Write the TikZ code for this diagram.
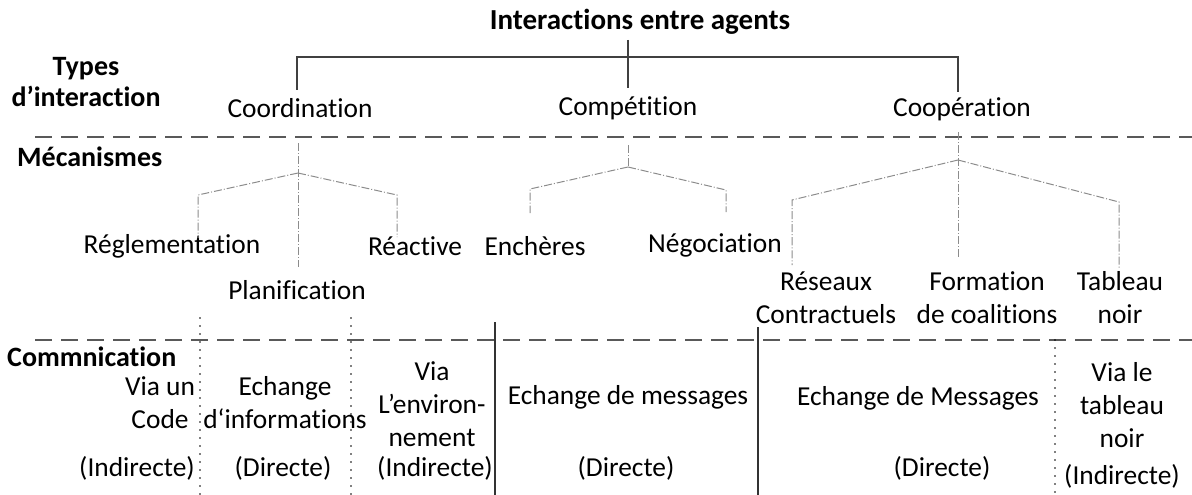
\documentclass[tikz,border=0pt]{standalone}
\usepackage{fontspec}
\setmainfont{Carlito}[Ligatures={NoCommon}]
\begin{document}
\begin{tikzpicture}[x=1pt,y=-1pt,
  lbl/.style={font=\fontsize{27.4}{33}\selectfont, inner sep=0pt, align=center},
  hdr/.style={font=\fontsize{28}{31}\selectfont\bfseries, inner sep=0pt, align=center},
  brk/.style={draw=black!75, line width=2.2pt},
  sep/.style={draw=black!65, line width=1.8pt, dash pattern=on 17pt off 9pt},
  tree/.style={draw=black!45, line width=1pt, dash pattern=on 8pt off 2pt on 1pt off 2pt},
  dots/.style={draw=black, line width=1.6pt, line cap=round, dash pattern=on 0pt off 8pt},
  wall/.style={draw=black!80, line width=1.8pt}]
\useasboundingbox (0,0) rectangle (1192,495);
% headings
\node[hdr, font=\fontsize{29}{31}\selectfont\bfseries] (title) at (640,22) {Interactions entre agents};
\node[hdr] (types) at (86,82) {Types\\d’interaction};
\node[hdr, anchor=west] (meca) at (17,157) {Mécanismes};
\node[hdr, anchor=west] (comm) at (7,357) {Commnication};
% types
\node[lbl] (coord) at (300,108) {Coordination};
\node[lbl] (comp) at (628,108) {Compétition};
\node[lbl] (coop) at (962,109) {Coopération};
% mechanisms
\node[lbl] (regl) at (172,246) {Réglementation};
\node[lbl] (plan) at (297,290) {Planification};
\node[lbl] (react) at (415,246) {Réactive};
\node[lbl] (ench) at (535,246) {Enchères};
\node[lbl] (nego) at (715,245) {Négociation};
\node[lbl] (reseau) at (826,298) {Réseaux\\Contractuels};
\node[lbl] (form) at (987,298) {Formation\\de coalitions};
\node[lbl] (tabl) at (1120,298) {Tableau\\noir};
% communication
\node[lbl] (c1) at (160,403) {Via un\\Code};
\node[lbl] (c1d) at (137,468) {(Indirecte)};
\node[lbl] (c2) at (285,403) {Echange\\d‘informations};
\node[lbl] (c2d) at (283,468) {(Directe)};
\node[lbl] (c3) at (432,404) {Via\\L’environ-\\nement};
\node[lbl] (c3d) at (435,468) {(Indirecte)};
\node[lbl] (c4) at (628,397) {Echange de messages};
\node[lbl] (c4d) at (626,468) {(Directe)};
\node[lbl] (c5) at (918,398) {Echange de Messages};
\node[lbl] (c5d) at (942,468) {(Directe)};
\node[lbl] (c6) at (1122,405) {Via le\\tableau\\noir};
\node[lbl] (c6d) at (1122,476) {(Indirecte)};
% top bracket
\coordinate (tTop) at (628,40);
\coordinate (tMid) at (628,88);
\coordinate (tL) at (297,57);
\coordinate (tR) at (958,57);
\coordinate (tLb) at (297,90);
\coordinate (tRb) at (958,92);
\draw[brk] (tLb) -- (tL) -- (tR) -- (tRb);
\draw[brk] (tTop) -- (tMid);
% separators
\coordinate (s1a) at (35,137); \coordinate (s1b) at (1192,137);
\coordinate (s2a) at (35,340); \coordinate (s2b) at (1192,340);
\draw[sep] (s1a) -- (s1b);
\draw[sep] (s2a) -- (s2b);
% coordination tree
\coordinate (aC0) at (298,143); \coordinate (aC) at (298,173);
\coordinate (aCl) at (198,195); \coordinate (aClb) at (198,238);
\coordinate (aCr) at (397,195); \coordinate (aCrb) at (397,237);
\coordinate (aCm) at (298,267);
\draw[tree] (aC0) -- (aCm);
\draw[tree] (aC) -- (aCl) -- (aClb);
\draw[tree] (aC) -- (aCr) -- (aCrb);
% competition tree
\coordinate (aP0) at (628,145); \coordinate (aP) at (628,167);
\coordinate (aPl) at (530,189); \coordinate (aPlb) at (530,213);
\coordinate (aPr) at (726,190); \coordinate (aPrb) at (726,212);
\draw[tree] (aP0) -- (aP);
\draw[tree] (aP) -- (aPl) -- (aPlb);
\draw[tree] (aP) -- (aPr) -- (aPrb);
% cooperation tree
\coordinate (aK0) at (958,132); \coordinate (aK) at (958,160);
\coordinate (aKl) at (792,200); \coordinate (aKlb) at (792,265);
\coordinate (aKr) at (1119,202); \coordinate (aKrb) at (1119,268);
\coordinate (aKm) at (958,257);
\draw[tree] (aK0) -- (aKm);
\draw[tree] (aK) -- (aKl) -- (aKlb);
\draw[tree] (aK) -- (aKr) -- (aKrb);
% communication column walls
\coordinate (d1a) at (200,318); \coordinate (d1b) at (200,495);
\coordinate (d2a) at (351,318); \coordinate (d2b) at (351,495);
\coordinate (w1a) at (495,322); \coordinate (w1b) at (495,495);
\coordinate (w2a) at (758,327); \coordinate (w2b) at (758,495);
\coordinate (d3a) at (1055,340); \coordinate (d3b) at (1055,495);
\draw[dots] (d1a) -- (d1b);
\draw[dots] (d2a) -- (d2b);
\draw[wall] (w1a) -- (w1b);
\draw[wall] (w2a) -- (w2b);
\draw[dots] (d3a) -- (d3b);
\end{tikzpicture}
\end{document}
